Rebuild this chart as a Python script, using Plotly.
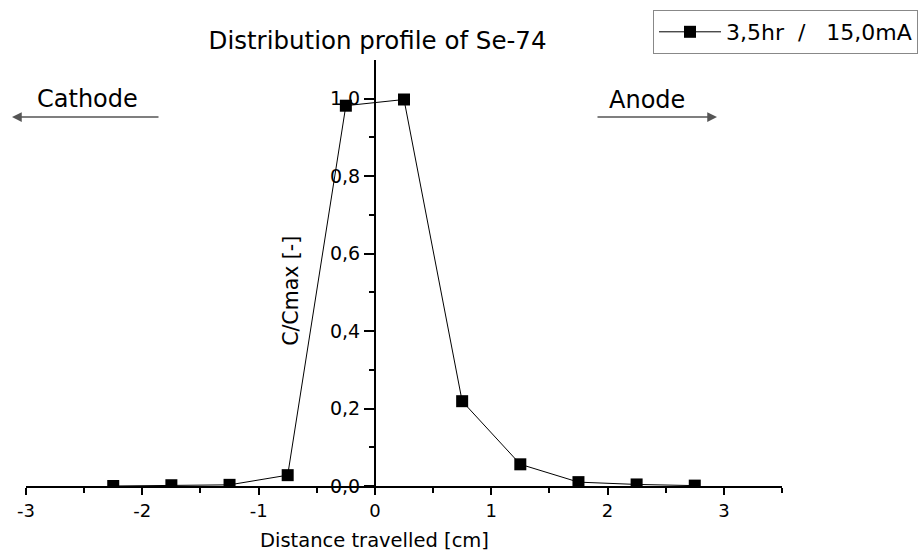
import plotly.graph_objects as go

# Data
distance_cm = [-2.25, -1.75, -1.25, -0.75, -0.25, 0.25, 0.75, 1.25, 1.75, 2.25, 2.75]
c_over_cmax = [0.0, 0.002, 0.003, 0.028, 0.982, 0.998, 0.219, 0.056, 0.010, 0.004, 0.001]
series_name = "3,5hr\u00a0\u00a0/\u00a0\u00a0\u00a015,0mA"

x_tickvals = [-3, -2, -1, 0, 1, 2, 3]
x_ticktext = ["-3", "-2", "-1", "0", "1", "2", "3"]
y_tickvals = [0.0, 0.2, 0.4, 0.6, 0.8, 1.0]
y_ticktext = ["0,0", "0,2", "0,4", "0,6", "0,8", "1,0"]

FONT = "DejaVu Sans"

fig = go.Figure()
fig.add_trace(go.Scatter(
    x=distance_cm, y=c_over_cmax, mode="lines+markers", name=series_name,
    line=dict(color="black", width=1),
    marker=dict(symbol="square", size=12, color="black"),
))

fig.update_layout(
    width=922, height=552,
    margin=dict(l=26, r=140, t=60, b=66, autoexpand=False),
    paper_bgcolor="white", plot_bgcolor="white",
    font=dict(family=FONT, color="black", size=18),
    showlegend=True,
    legend=dict(
        xref="container", yref="container",
        x=918 / 922, xanchor="right", y=1 - 10 / 552, yanchor="top",
        bordercolor="#888888", borderwidth=1, bgcolor="white",
        font=dict(size=22, family=FONT), itemwidth=62,
        tracegroupgap=0,
    ),
    title=dict(
        text="Distribution profile of Se-74",
        x=0.465, xref="paper", xanchor="center",
        y=1 - 40 / 552, yanchor="middle",
        font=dict(size=24.5, family=FONT, color="black"),
    ),
    xaxis=dict(
        range=[-3, 3.5], showgrid=False, zeroline=False, automargin=False,
        showline=True, linecolor="black", linewidth=2,
        ticks="outside", ticklen=7, tickwidth=2, tickcolor="black",
        tickvals=x_tickvals, ticktext=x_ticktext,
        tickfont=dict(size=18),
        minor=dict(dtick=0.5, ticks="outside", ticklen=5, tickwidth=2, tickcolor="black", showgrid=False),
    ),
    yaxis=dict(
        range=[0, 1.1], showgrid=False, zeroline=False, automargin=False,
        anchor="free", position=3 / 6.5,
        showline=True, linecolor="black", linewidth=2,
        ticks="outside", ticklen=10, tickwidth=2, tickcolor="black",
        tickvals=y_tickvals, ticktext=y_ticktext,
        tickfont=dict(size=19),
        minor=dict(tickvals=[0.1, 0.3, 0.5, 0.7, 0.9], ticks="outside", ticklen=5, tickwidth=2, tickcolor="black", showgrid=False),
    ),
)

# Axis titles
fig.add_annotation(text="Distance travelled [cm]", x=0, xref="x", y=-0.127, yref="paper",
                   showarrow=False, xanchor="center", yanchor="middle", font=dict(size=19.5))
fig.add_annotation(text="C/Cmax [-]", x=0.3505, xref="paper", y=0.458, yref="paper",
                   showarrow=False, textangle=-90, xanchor="center", yanchor="middle", font=dict(size=20.5))

# Cathode / Anode labels with arrows
fig.add_annotation(text="Cathode", x=(87 - 26) / 756, xref="paper", y=(486 - 99) / 426, yref="paper",
                   showarrow=False, xanchor="center", yanchor="middle", font=dict(size=24))
fig.add_annotation(text="Anode", x=(647 - 26) / 756, xref="paper", y=(486 - 100) / 426, yref="paper",
                   showarrow=False, xanchor="center", yanchor="middle", font=dict(size=24))
fig.add_annotation(text="", x=(12 - 26) / 756, xref="paper", y=(486 - 117) / 426, yref="paper",
                   showarrow=True, ax=148, ay=0, arrowhead=2, arrowsize=1.3, arrowwidth=1.5,
                   arrowcolor="#555555")
fig.add_annotation(text="", x=(717 - 26) / 756, xref="paper", y=(486 - 117) / 426, yref="paper",
                   showarrow=True, ax=-121, ay=0, arrowhead=2, arrowsize=1.3, arrowwidth=1.5,
                   arrowcolor="#555555")

fig.write_html("out.html")
